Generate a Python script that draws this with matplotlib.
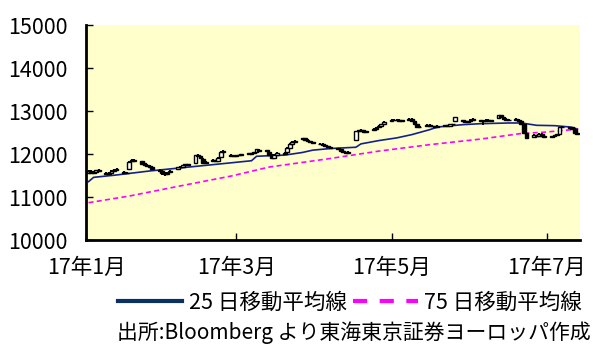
import numpy as np
import pandas as pd
import matplotlib
matplotlib.use("Agg")
import matplotlib.pyplot as plt
import matplotlib.dates as mdates
from matplotlib.lines import Line2D

plt.rcParams['font.family'] = ['Noto Sans CJK JP', 'DejaVu Sans']

# 日足（1週=1行）
opens = [
    11560, 11610, 11560, 11590, 11630,
    11570, 11530, 11570, 11600, 11620,
    11580, 11550, 11650, 11830, 11850,
    11830, 11790, 11750, 11730, 11700,
    11640, 11600, 11560, 11540, 11580,
    11650, 11690, 11700, 11740, 11770,
    11800, 11960, 11950, 11890, 11790,
    11860, 11860, 11840, 11930, 12060,
    11980, 11950, 11960, 11970, 11980,
    12010, 12000, 12030, 12050, 12100,
    12080, 12060, 11990, 11910, 11990,
    12000, 12040, 12150, 12240, 12290,
    12340, 12370, 12330, 12300, 12280,
    12230, 12240, 12210, 12190, 12170,
    12140, 12110, 12080, 12030, 12030,
    12330, 12540, 12570, 12550, 12530,
    12570, 12590, 12620, 12660, 12700,
    12780, 12800, 12790, 12800, 12780,
    12800, 12820, 12760, 12690, 12620,
    12660, 12680, 12660, 12650, 12640,
    12650, 12670, 12660, 12690, 12770,
    12790, 12760, 12740, 12760, 12790,
    12790, 12780, 12760, 12800, 12790,
    12830, 12900, 12860, 12820, 12800,
    12810, 12800, 12760, 12700, 12500,
    12400, 12440, 12430, 12470, 12420,
    12400, 12420, 12440, 12460, 12620,
    12610, 12620, 12590, 12500,
]
closes = [
    11600, 11570, 11590, 11620, 11600,
    11540, 11560, 11610, 11630, 11650,
    11560, 11570, 11820, 11860, 11870,
    11780, 11740, 11720, 11690, 11660,
    11600, 11550, 11530, 11570, 11610,
    11690, 11700, 11740, 11760, 11740,
    11980, 11990, 11900, 11800, 11810,
    11850, 11840, 11920, 12060, 12070,
    11960, 11950, 11970, 11980, 11990,
    12000, 12020, 12040, 12110, 12080,
    12070, 11990, 11920, 11990, 12020,
    12030, 12150, 12240, 12290, 12310,
    12370, 12330, 12300, 12280, 12250,
    12240, 12210, 12190, 12160, 12150,
    12120, 12080, 12040, 12030, 12060,
    12530, 12550, 12540, 12520, 12510,
    12590, 12610, 12660, 12700, 12740,
    12800, 12790, 12800, 12780, 12790,
    12820, 12770, 12700, 12630, 12640,
    12680, 12660, 12650, 12640, 12660,
    12670, 12660, 12690, 12700, 12860,
    12760, 12740, 12760, 12800, 12820,
    12780, 12760, 12800, 12790, 12770,
    12900, 12860, 12820, 12800, 12790,
    12800, 12760, 12700, 12500, 12380,
    12440, 12430, 12470, 12420, 12400,
    12420, 12440, 12460, 12620, 12640,
    12620, 12590, 12500, 12460,
]
highs = [
    11630, 11620, 11600, 11640, 11650,
    11590, 11580, 11620, 11650, 11670,
    11600, 11590, 11830, 11890, 11880,
    11850, 11800, 11770, 11740, 11720,
    11660, 11610, 11580, 11590, 11630,
    11700, 11720, 11750, 11780, 11780,
    11990, 12010, 11960, 11900, 11830,
    11880, 11870, 11930, 12080, 12090,
    12000, 11970, 11980, 11990, 12000,
    12030, 12030, 12050, 12130, 12110,
    12100, 12070, 12000, 12000, 12040,
    12050, 12160, 12250, 12300, 12330,
    12380, 12380, 12340, 12310, 12290,
    12250, 12250, 12220, 12200, 12180,
    12150, 12120, 12090, 12050, 12070,
    12540, 12570, 12580, 12560, 12540,
    12600, 12620, 12670, 12710, 12760,
    12810, 12810, 12810, 12810, 12800,
    12840, 12830, 12770, 12700, 12650,
    12690, 12690, 12670, 12660, 12670,
    12680, 12680, 12700, 12710, 12870,
    12800, 12770, 12770, 12810, 12830,
    12800, 12790, 12810, 12810, 12800,
    12920, 12910, 12870, 12830, 12810,
    12830, 12810, 12770, 12710, 12520,
    12460, 12450, 12480, 12480, 12430,
    12430, 12450, 12470, 12630, 12660,
    12640, 12630, 12600, 12510,
]
lows = [
    11540, 11550, 11540, 11570, 11580,
    11510, 11520, 11550, 11590, 11600,
    11530, 11530, 11640, 11810, 11830,
    11760, 11720, 11690, 11670, 11640,
    11580, 11520, 11500, 11520, 11560,
    11630, 11670, 11690, 11720, 11720,
    11790, 11940, 11880, 11780, 11770,
    11830, 11820, 11830, 11920, 12040,
    11940, 11930, 11940, 11950, 11960,
    11980, 11990, 12020, 12040, 12060,
    12050, 11980, 11880, 11890, 11970,
    11990, 12030, 12140, 12230, 12280,
    12320, 12320, 12290, 12260, 12230,
    12210, 12200, 12170, 12140, 12130,
    12100, 12060, 12020, 12010, 12020,
    12320, 12520, 12530, 12510, 12500,
    12560, 12580, 12610, 12650, 12690,
    12770, 12780, 12780, 12770, 12770,
    12790, 12760, 12690, 12600, 12610,
    12650, 12650, 12640, 12630, 12630,
    12640, 12650, 12650, 12680, 12760,
    12750, 12730, 12730, 12750, 12780,
    12770, 12680, 12750, 12780, 12760,
    12820, 12850, 12810, 12790, 12780,
    12790, 12750, 12690, 12470, 12340,
    12390, 12410, 12420, 12400, 12370,
    12380, 12410, 12430, 12450, 12610,
    12600, 12580, 12490, 12440,
]
days = pd.bdate_range('2017-01-02', periods=len(closes))

# 25日移動平均線（読み取り）
ma25_dates = ['2017-01-02', '2017-01-04', '2017-01-13', '2017-01-26', '2017-02-08',
              '2017-02-21', '2017-03-07', '2017-03-09', '2017-03-20', '2017-03-27',
              '2017-03-31', '2017-04-07', '2017-04-17', '2017-04-19', '2017-04-26',
              '2017-05-03', '2017-05-09', '2017-05-16', '2017-05-19', '2017-05-29',
              '2017-06-05', '2017-06-16', '2017-06-21', '2017-06-27', '2017-07-04',
              '2017-07-10', '2017-07-13']
ma25 = [11360, 11460, 11515, 11608, 11685,
        11762, 11846, 11950, 11977, 12038,
        12092, 12130, 12160, 12238, 12315,
        12377, 12454, 12569, 12630, 12685,
        12708, 12724, 12724, 12670, 12662,
        12631, 12585]

# 75日移動平均線（読み取り）
ma75_dates = ['2017-01-02', '2017-01-18', '2017-02-07', '2017-02-27', '2017-03-14',
              '2017-04-06', '2017-04-26', '2017-05-16', '2017-06-05', '2017-06-21',
              '2017-06-30', '2017-07-13']
ma75 = [10870, 11025, 11260, 11490, 11700,
        11890, 12070, 12220, 12350, 12480,
        12510, 12580]

tick_dates = ['2017-01-01', '2017-03-01', '2017-05-01', '2017-07-01']
tick_labels = ['17年1月', '17年3月', '17年5月', '17年7月']

fig = plt.figure(figsize=(5.93, 3.49), dpi=100)
ax = fig.add_axes([0.145, 0.312, 0.833, 0.616])
ax.set_facecolor('#FFFFCC')

x = mdates.date2num(days)
o = np.array(opens)
c = np.array(closes)
ax.vlines(x, lows, highs, color='black', lw=1.4, zorder=3)
body_col = np.where(c >= o, 'white', 'black')
hgt = np.where(np.abs(c - o) < 15, 15, np.abs(c - o))
ax.bar(x, hgt, bottom=np.minimum(o, c), width=1.5, color=body_col,
       edgecolor='black', linewidth=1.0, zorder=4)

ax.plot(pd.to_datetime(ma25_dates), ma25, color='#14208f', lw=1.2, zorder=2)
ax.plot(pd.to_datetime(ma75_dates), ma75, color='#FF00FF', lw=1.2,
        dashes=(3, 2), zorder=2)

ax.set_ylim(10000, 15000)
ax.set_yticks(range(10000, 15001, 1000))
ax.set_xlim(pd.Timestamp('2017-01-01'), pd.Timestamp('2017-07-14'))
ax.set_xticks(pd.to_datetime(tick_dates))
ax.set_xticklabels(tick_labels)

for s in ['top', 'right']:
    ax.spines[s].set_visible(False)
for s in ['left', 'bottom']:
    ax.spines[s].set_linewidth(2)
ax.tick_params(axis='y', direction='in', length=5, width=1, pad=13, labelsize=15.5)
ax.tick_params(axis='x', direction='in', length=5, width=1, pad=12, labelsize=15.5)

handles = [Line2D([], [], color='#0b3163', lw=3),
           Line2D([], [], color='#FF00FF', lw=3, dashes=(3.4, 3.0))]
fig.legend(handles, ['25 日移動平均線', '75 日移動平均線'], loc='center',
           bbox_to_anchor=(0.59, 0.132), ncol=2, frameon=False, fontsize=15.5,
           handlelength=3.0, handletextpad=0.3, columnspacing=0.3)
fig.text(0.597, 0.046, '出所:Bloomberg より東海東京証券ヨーロッパ作成',
         ha='center', va='center', fontsize=15)

fig.savefig('out.png', dpi=100)
